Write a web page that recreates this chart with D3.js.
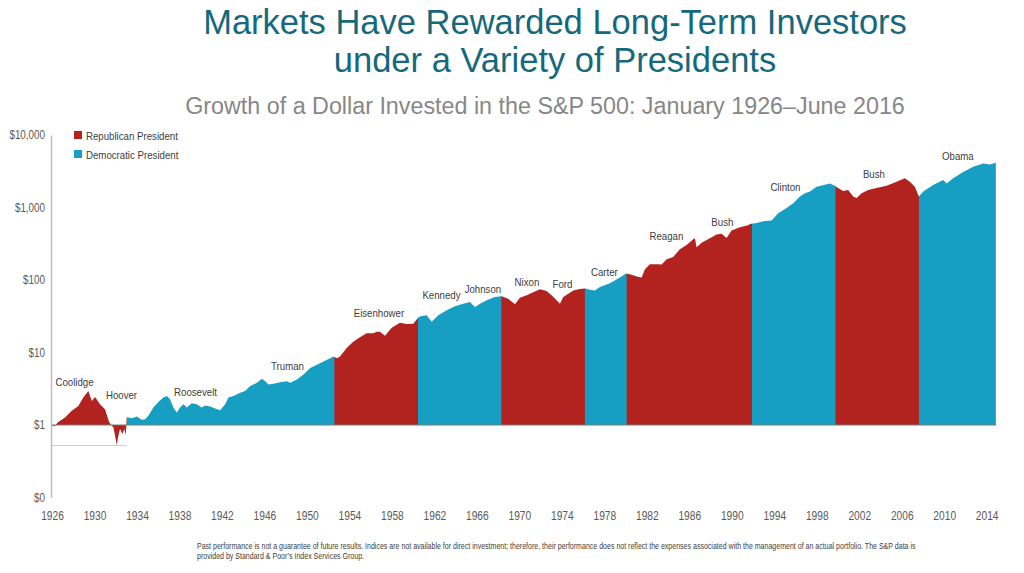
<!DOCTYPE html>
<html>
<head>
<meta charset="utf-8">
<script src="https://cdn.jsdelivr.net/npm/d3@7"></script>
<style>
  html, body { margin: 0; padding: 0; background: #ffffff; }
  svg { display: block; }
</style>
</head>
<body>
<svg id="chart" width="1024" height="573"></svg>
<script>
// ---------------- DATA ----------------
const titleLines = ["Markets Have Rewarded Long-Term Investors", "under a Variety of Presidents"];
const subtitle = "Growth of a Dollar Invested in the S&P 500: January 1926\u2013June 2016";
const footnoteLines = [
  "Past performance is not a guarantee of future results. Indices are not available for direct investment; therefore, their performance does not reflect the expenses associated with the management of an actual portfolio. The S&P data is",
  "provided by Standard & Poor\u2019s Index Services Group."
];
const legendLabels = ["Republican President", "Democratic President"];

// Growth of $1
const growthDates = [
  1926.00, 1926.19, 1926.60, 1927.25, 1927.89, 1928.52, 1929.00, 1929.48, 1929.81, 1930.12,
  1930.60, 1931.08, 1931.47, 1931.72, 1931.88, 1932.04, 1932.20, 1932.36, 1932.52, 1932.74,
  1932.93, 1933.07, 1933.16, 1933.32, 1933.64, 1934.12, 1934.60, 1934.92, 1935.23, 1935.71,
  1936.19, 1936.67, 1937.00, 1937.31, 1937.63, 1937.96, 1938.27, 1938.59, 1938.91, 1939.39,
  1939.87, 1940.35, 1940.67, 1941.15, 1941.63, 1942.11, 1942.59, 1942.90, 1943.38, 1944.03,
  1944.50, 1944.98, 1945.63, 1946.11, 1946.42, 1946.74, 1947.22, 1947.86, 1948.50, 1948.82,
  1949.46, 1950.09, 1950.74, 1951.38, 1952.01, 1952.65, 1952.97, 1953.30, 1953.59, 1954.23,
  1954.86, 1955.50, 1956.14, 1956.78, 1957.10, 1957.42, 1957.90, 1958.54, 1959.33, 1959.97,
  1960.61, 1961.09, 1961.32, 1961.89, 1962.37, 1963.00, 1963.81, 1964.60, 1965.40, 1966.04,
  1966.52, 1967.00, 1967.64, 1968.43, 1969.07, 1969.70, 1970.35, 1970.82, 1971.47, 1972.10,
  1972.74, 1973.38, 1973.86, 1974.34, 1974.66, 1974.98, 1975.46, 1975.94, 1976.58, 1977.06,
  1977.54, 1978.01, 1978.49, 1979.45, 1980.41, 1980.98, 1981.53, 1982.01, 1982.49, 1982.80,
  1983.28, 1984.07, 1984.40, 1984.88, 1985.51, 1986.15, 1986.79, 1987.43, 1987.59, 1987.75,
  1988.23, 1989.02, 1989.66, 1990.14, 1990.62, 1991.10, 1991.90, 1992.69, 1992.86, 1993.50,
  1994.13, 1994.94, 1995.57, 1996.37, 1997.01, 1997.65, 1998.13, 1998.61, 1999.25, 2000.52,
  2001.00, 2001.22, 2001.79, 2002.27, 2002.75, 2003.08, 2003.56, 2004.19, 2004.99, 2005.95,
  2006.91, 2007.70, 2008.18, 2008.66, 2009.04, 2009.46, 2010.41, 2011.37, 2011.70, 2012.33,
  2013.29, 2014.25, 2015.21, 2015.85, 2016.42
];
const growthValues = [
  1.00, 0.95, 1.10, 1.27, 1.57, 1.83, 2.39, 2.94, 2.15, 2.43,
  1.93, 1.65, 1.10, 0.98, 0.93, 0.71, 0.53, 0.71, 0.88, 0.75,
  0.88, 0.73, 1.27, 1.27, 1.24, 1.31, 1.18, 1.20, 1.34, 1.74,
  2.08, 2.39, 2.51, 2.26, 1.74, 1.49, 1.74, 1.93, 1.74, 2.00,
  1.93, 1.74, 1.86, 1.80, 1.69, 1.60, 1.93, 2.39, 2.51, 2.79,
  2.94, 3.44, 3.83, 4.33, 4.02, 3.62, 3.70, 3.90, 4.02, 3.83,
  4.24, 4.97, 6.13, 6.80, 7.54, 8.36, 8.81, 8.36, 8.81, 11.5,
  14.1, 16.2, 18.4, 18.4, 19.3, 19.3, 17.0, 22.0, 25.7, 24.7,
  25.0, 30.4, 31.6, 32.6, 26.5, 32.6, 38.2, 43.3, 47.2, 49.8,
  42.5, 47.2, 52.5, 58.3, 59.5, 55.1, 46.3, 57.1, 61.6, 67.7,
  74.6, 70.3, 61.6, 52.5, 47.2, 58.3, 64.4, 71.5, 74.9, 76.6,
  73.1, 71.5, 80.0, 90.0, 108.6, 123, 118.6, 111.6, 108.6, 141,
  165, 165, 163, 194, 208, 265, 303, 364, 377, 284,
  326, 377, 425, 434, 381, 480, 534, 571, 590, 612,
  644, 660, 836, 983, 1148, 1418, 1575, 1657, 1934, 2145,
  1997, 1887, 1690, 1750, 1418, 1350, 1575, 1746, 1853, 1997,
  2272, 2524, 2272, 1934, 1418, 1657, 2050, 2400, 2145, 2524,
  3100, 3640, 4050, 3910, 4140
];

const presidentNames   = ["Coolidge","Hoover","Roosevelt","Truman","Eisenhower","Kennedy","Johnson","Nixon","Ford","Carter","Reagan","Bush","Clinton","Bush","Obama"];
const presidentParties = ["R","R","D","D","R","D","D","R","R","D","R","R","D","R","D"];
const termStarts       = [1926.00, 1929.17, 1933.17, 1945.28, 1953.05, 1961.05, 1963.89, 1969.05, 1974.61, 1977.05, 1981.05, 1989.05, 1993.05, 2001.05, 2009.05];
const seriesEnd = 2016.46;
// label anchors (year, value) for president names
const labelYears  = [1928.16, 1932.66, 1939.75, 1948.56, 1957.32, 1963.31, 1967.28, 1971.50, 1974.90, 1978.92, 1984.86, 1990.22, 1996.26, 2004.74, 2012.78];
const labelValues = [3.86, 2.57, 2.82, 6.59, 34.8, 61.3, 76.3, 95.1, 89.3, 130, 403, 626, 1941, 2918, 5140];

const yTickValues = [0.1, 1, 10, 100, 1000, 10000];
const yTickLabels = ["$0", "$1", "$10", "$100", "$1,000", "$10,000"];
const xTickYears = [1926,1930,1934,1938,1942,1946,1950,1954,1958,1962,1966,1970,1974,1978,1982,1986,1990,1994,1998,2002,2006,2010,2014];

// ---------------- STYLE ----------------
const RED = "#b2231f", BLUE = "#169fc3";
const partyColor = { R: RED, D: BLUE };
const chartFont = "'Liberation Sans', Arial, sans-serif";

const svg = d3.select("#chart");

// horizontally condense text (the original uses a narrow face)
function condense(sel, k) {
  sel.each(function () {
    const w = this.getComputedTextLength();
    d3.select(this).attr("textLength", w * k).attr("lengthAdjust", "spacingAndGlyphs");
  });
}

// scales
const x = d3.scaleLinear().domain([1926, 2016.5]).range([52, 996.7]);
const xTicks = d3.scaleLinear().domain([1926, 2014]).range([52, 986.7]);
const y = d3.scaleLog().domain([0.1, 10000]).range([497.5, 135]);

const series = growthDates.map((d, i) => ({ t: d, v: growthValues[i] }));

// title
svg.append("g").selectAll("text").data(titleLines).join("text")
  .attr("x", 555).attr("y", (d, i) => 34 + i * 38)
  .attr("text-anchor", "middle")
  .style("font-family", "'Liberation Sans', Arial, sans-serif")
  .style("font-size", "34.5px")
  .style("fill", "#15697a")
  .text(d => d);

svg.append("text")
  .attr("x", 545).attr("y", 114)
  .attr("text-anchor", "middle")
  .style("font-family", "'Liberation Sans', Arial, sans-serif")
  .style("font-size", "23.3px")
  .style("fill", "#878787")
  .text(subtitle);

// merge consecutive same-party terms into colour blocks
const blocks = [];
presidentParties.forEach((p, i) => {
  const end = i < termStarts.length - 1 ? termStarts[i + 1] : seriesEnd;
  const last = blocks[blocks.length - 1];
  if (last && last.party === p) last.end = end;
  else blocks.push({ party: p, start: termStarts[i], end: end });
});

const defs = svg.append("defs");
blocks.forEach((b, i) => {
  defs.append("clipPath").attr("id", "clip" + i)
    .append("rect")
    .attr("x", x(b.start)).attr("y", 0)
    .attr("width", x(b.end) - x(b.start) + (i < blocks.length - 1 ? 0.6 : 0))
    .attr("height", 573);
});

const area = d3.area()
  .x(d => x(d.t))
  .y0(y(1))
  .y1(d => y(d.v));

svg.append("g").selectAll("path").data(blocks).join("path")
  .attr("clip-path", (d, i) => `url(#clip${i})`)
  .attr("d", area(series))
  .attr("fill", d => partyColor[d.party]);

// minimum reference line (Hoover low)
const minVal = d3.min(growthValues);
svg.append("line")
  .attr("x1", x(1926)).attr("x2", x(termStarts[2]))
  .attr("y1", y(minVal) + 0.5).attr("y2", y(minVal) + 0.5)
  .attr("stroke", "#f2c6c0").attr("stroke-width", 1);

// $1 baseline
svg.append("line")
  .attr("x1", x(1926)).attr("x2", x(seriesEnd))
  .attr("y1", y(1)).attr("y2", y(1))
  .attr("stroke", "#7a7a7a").attr("stroke-width", 1);

// y axis
const yAxis = svg.append("g")
  .attr("transform", "translate(51,0)")
  .call(d3.axisLeft(y).tickValues(yTickValues).tickFormat((d, i) => yTickLabels[i]).tickSize(0).tickPadding(6));
yAxis.select(".domain").attr("stroke", "#bdbdbd").attr("stroke-width", 1.5);
yAxis.selectAll("text")
  .style("font-family", chartFont).style("font-size", "12px").style("fill", "#595959")
  .call(condense, 0.82);

// x axis (label axis)
const xAxis = svg.append("g")
  .attr("transform", "translate(0,506)")
  .call(d3.axisBottom(xTicks).tickValues(xTickYears).tickFormat(d => String(d)).tickSize(0).tickPadding(5));
xAxis.select(".domain").remove();
xAxis.selectAll("text")
  .style("font-family", chartFont).style("font-size", "12px").style("fill", "#595959")
  .call(condense, 0.85);

// president labels
svg.append("g").selectAll("text").data(presidentNames).join("text")
  .attr("x", (d, i) => x(labelYears[i]))
  .attr("y", (d, i) => y(labelValues[i]) + 4)
  .attr("text-anchor", "middle")
  .style("font-family", chartFont).style("font-size", "11.5px").style("fill", "#404040")
  .text(d => d)
  .call(condense, 0.84);

// legend
const legend = svg.append("g").attr("transform", "translate(74,131)");
const lg = legend.selectAll("g").data(legendLabels).join("g")
  .attr("transform", (d, i) => `translate(0,${i * 19})`);
lg.append("rect").attr("width", 8).attr("height", 8)
  .attr("fill", (d, i) => i === 0 ? RED : BLUE);
lg.append("text").attr("x", 12).attr("y", 8.5)
  .style("font-family", chartFont).style("font-size", "11.5px").style("fill", "#404040")
  .text(d => d)
  .call(condense, 0.84);

// footnote — squeeze horizontally so line 1 spans the original's width
const footG = svg.append("g");
const foot = footG.selectAll("text").data(footnoteLines).join("text")
  .attr("x", 0).attr("y", (d, i) => i * 10)
  .style("font-family", chartFont).style("font-size", "8.3px").style("fill", "#404040")
  .text(d => d);
const firstW = foot.nodes()[0].getComputedTextLength();
const kFoot = 719 / firstW;
footG.attr("transform", `translate(197,549) scale(${kFoot},1)`);
</script>
</body>
</html>
